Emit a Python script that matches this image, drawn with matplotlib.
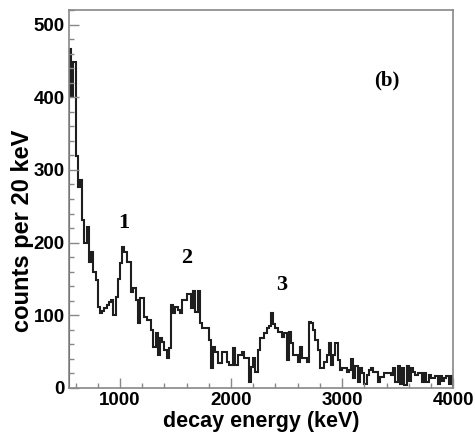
import matplotlib
matplotlib.use("Agg")
import matplotlib.pyplot as plt
from matplotlib.ticker import MultipleLocator
import numpy as np

# histogram, 20 keV bins starting at 540 keV
e_start = 540
e_bin = 20
counts = [
    467, 400, 448, 319, 276, 286, 231, 199, 222, 173,
    187, 159, 148, 111, 103, 106, 110, 114, 118, 121,
    100, 125, 150, 172, 194, 187, 173, 173, 132, 137,
    121, 89, 124, 124, 98, 93, 93, 80, 56, 76,
    45, 69, 63, 52, 41, 55, 114, 103, 112, 107,
    103, 121, 121, 129, 129, 110, 133, 104, 133, 89,
    82, 82, 82, 66, 27, 56, 49, 34, 34, 49,
    49, 36, 32, 32, 55, 32, 45, 45, 49, 41,
    41, 8, 29, 41, 22, 52, 69, 69, 75, 82,
    85, 103, 88, 82, 77, 77, 70, 75, 38, 77,
    62, 45, 45, 36, 56, 41, 41, 36, 91, 89,
    80, 66, 52, 27, 27, 36, 45, 62, 32, 45,
    62, 38, 25, 27, 27, 22, 25, 40, 14, 30,
    8, 27, 20, 5, 18, 25, 27, 22, 22, 8,
    15, 15, 20, 20, 20, 18, 27, 8, 30, 5,
    28, 4, 30, 10, 28, 22, 18, 20, 20, 8,
    20, 8, 18, 14, 14, 16, 6, 17, 10, 14,
    16, 6, 17,
]
edges = e_start + e_bin * np.arange(len(counts) + 1)

peak_labels = ["1", "2", "3"]
peak_x = [1036, 1603, 2459]
peak_y = [227, 179, 141]

fig = plt.figure(figsize=(4.75, 4.34), dpi=100)
ax = fig.add_axes([0.145, 0.106, 0.809, 0.871])

ax.stairs(counts, edges, color="#1e1e1e", linewidth=1.5)

ax.set_xlim(540, 4000)
ax.set_ylim(0, 520)

sans = "Liberation Sans"
serif = "Liberation Serif"

for lab, x, y in zip(peak_labels, peak_x, peak_y):
    ax.text(x, y, lab, fontsize=16, fontweight="bold", family=serif,
            ha="center", va="center")
ax.text(3405, 423, "(b)", fontsize=15, fontweight="bold", family=serif,
        ha="center", va="center")

ax.set_xlabel("decay energy (keV)", fontsize=15.5, fontweight="bold",
              family=sans, labelpad=1)
ax.set_ylabel("counts per 20 keV", fontsize=17, fontweight="bold",
              family=sans)
ax.yaxis.set_label_coords(-0.092, 0.415)

ax.xaxis.set_major_locator(MultipleLocator(1000))
ax.xaxis.set_minor_locator(MultipleLocator(200))
ax.yaxis.set_major_locator(MultipleLocator(100))
ax.yaxis.set_minor_locator(MultipleLocator(20))
ax.tick_params(which="both", direction="in", color="#888888", width=1,
               top=False, right=False)
ax.tick_params(which="major", length=7, labelsize=13.5, pad=3)
ax.tick_params(which="minor", length=3.5)
for lbl in ax.get_xticklabels() + ax.get_yticklabels():
    lbl.set_fontweight("bold")
    lbl.set_family(sans)

for sp in ax.spines.values():
    sp.set_color("#888888")
    sp.set_linewidth(1.2)

fig.savefig("out.png", dpi=100)
